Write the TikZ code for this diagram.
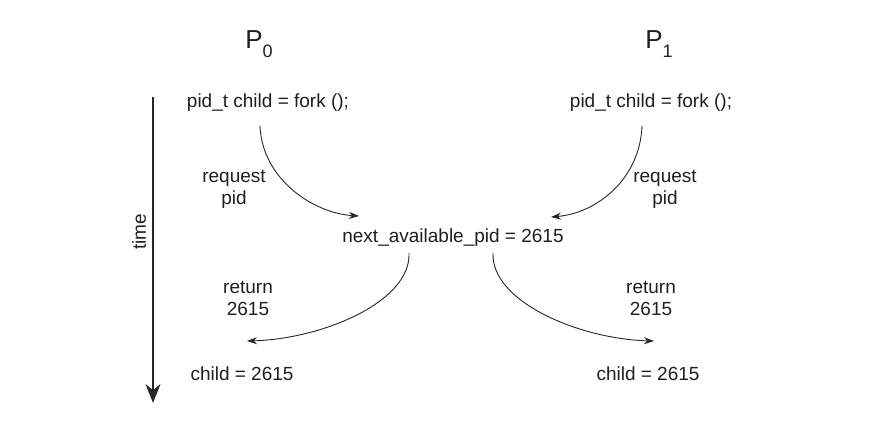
\documentclass[tikz,border=0pt]{standalone}
\usepackage{fontspec}
\setmainfont{Liberation Sans}
\usetikzlibrary{arrows.meta}
\begin{document}
\begin{tikzpicture}[x=1pt,y=-1pt,
  txt/.style={font=\fontsize{19}{22}\selectfont, inner sep=0pt, align=center, text=black!88},
  proc/.style={inner sep=0pt, text=black!88},
  flow/.style={line width=0.9pt, black!85, -{Stealth[length=10pt,width=7pt]}},
  timeline/.style={line width=1.8pt, black!85, -{Stealth[length=19pt,width=15pt]}}]
\useasboundingbox (0,0) rectangle (882,422);
\node[proc] (p0) at (259,44) {\fontsize{26}{26}\selectfont P\raisebox{-9pt}{\fontsize{18}{18}\selectfont 0}};
\node[proc] (p1) at (659,44) {\fontsize{26}{26}\selectfont P\raisebox{-9pt}{\fontsize{18}{18}\selectfont 1}};
\node[txt] (fork0) at (268,103) {pid\_t child = fork ();};
\node[txt] (fork1) at (651,103) {pid\_t child = fork ();};
\node[txt] (req0) at (234,189) {request\\pid};
\node[txt] (req1) at (665,189) {request\\pid};
\node[txt] (next) at (453,238) {next\_available\_pid = 2615};
\node[txt] (ret0) at (248,298) {return\\2615};
\node[txt] (ret1) at (651,298) {return\\2615};
\node[txt] (child0) at (242,374) {child = 2615};
\node[txt] (child1) at (648,374) {child = 2615};
\coordinate (t0) at (153,97);
\coordinate (t1) at (153,403);
\draw[timeline] (t0) -- (t1);
\node[txt, rotate=90] (time) at (139,232) {time};
\coordinate (a0s) at (260,126);
\coordinate (a0e) at (359,216);
\coordinate (a1s) at (642,126);
\coordinate (a1e) at (551,217);
\coordinate (r0s) at (409,253);
\coordinate (r0e) at (247,341);
\coordinate (r1s) at (493,253);
\coordinate (r1e) at (654,341);
\draw[flow] (a0s) .. controls (262,178) and (312,213) .. (a0e);
\draw[flow] (a1s) .. controls (640,178) and (598,213) .. (a1e);
\draw[flow] (r0s) .. controls (411,302) and (322,339) .. (r0e);
\draw[flow] (r1s) .. controls (491,302) and (580,339) .. (r1e);
\end{tikzpicture}
\end{document}
